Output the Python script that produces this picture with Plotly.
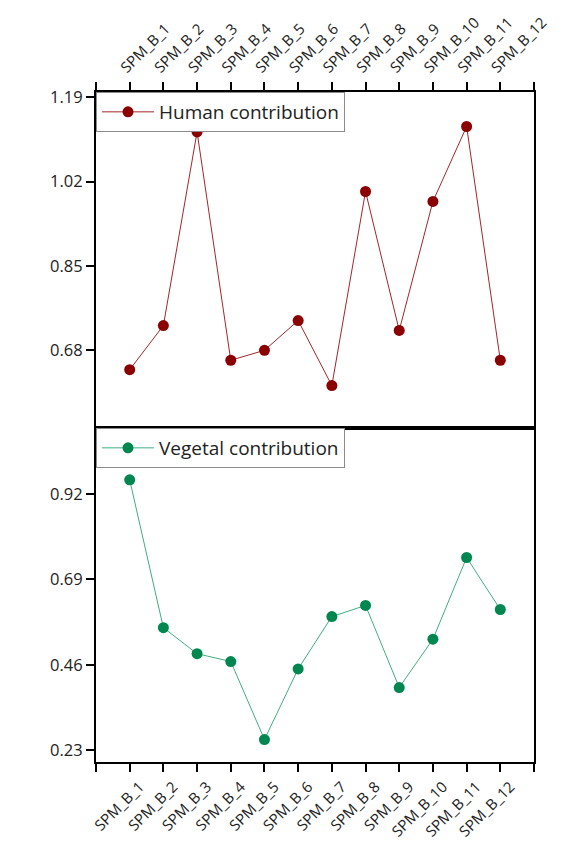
import plotly.graph_objects as go
from plotly.subplots import make_subplots

# Samples and their contributions
samples = [f"SPM_B_{i}" for i in range(1, 13)]
human = [0.641, 0.730, 1.120, 0.660, 0.680, 0.740, 0.609, 1.000, 0.720, 0.980, 1.131, 0.660]
vegetal = [0.958, 0.560, 0.490, 0.469, 0.259, 0.449, 0.590, 0.620, 0.399, 0.529, 0.749, 0.609]

human_ticks = [0.68, 0.85, 1.02, 1.19]
vegetal_ticks = [0.23, 0.46, 0.69, 0.92]

x_pos = list(range(1, len(samples) + 1))
tick_pos = list(range(0, len(samples) + 2))
tick_text = [""] + samples + [""]

FONT = "Open Sans"
TXT = "#222222"

fig = make_subplots(rows=2, cols=1, shared_xaxes=False, vertical_spacing=0.0)

fig.add_trace(go.Scatter(
    x=x_pos, y=human, mode="lines+markers", name="Human contribution",
    line=dict(color="#a3262b", width=1),
    marker=dict(color="#8b0000", size=11),
    legend="legend",
), row=1, col=1)

fig.add_trace(go.Scatter(
    x=x_pos, y=vegetal, mode="lines+markers", name="Vegetal contribution",
    line=dict(color="#3fae80", width=1),
    marker=dict(color="#00874f", size=11),
    legend="legend2",
), row=2, col=1)

axis_common = dict(
    showline=True, linecolor="black", linewidth=2, mirror=True,
    ticks="outside", ticklen=8, tickwidth=1.5, tickcolor="black",
    showgrid=False, zeroline=False, automargin=False,
)

fig.update_xaxes(
    range=[0, 13], tickmode="array", tickvals=tick_pos, ticktext=tick_text,
    tickangle=-45, tickfont=dict(family=FONT, size=15, color=TXT), **axis_common,
)
fig.update_xaxes(side="top", ticklabelshift=-8, row=1, col=1)
fig.update_xaxes(side="bottom", ticklabelshift=10, ticklabelstandoff=0, row=2, col=1)

yfont = dict(family=FONT, size=16.5, color=TXT)
fig.update_yaxes(range=[0.5235, 1.2005], tickmode="array", tickvals=human_ticks,
                 ticktext=[f"{v:.2f}" for v in human_ticks], tickfont=yfont,
                 **axis_common, row=1, col=1)
fig.update_yaxes(range=[0.1985, 1.0976], tickmode="array", tickvals=vegetal_ticks,
                 ticktext=[f"{v:.2f}" for v in vegetal_ticks], tickfont=yfont,
                 **axis_common, row=2, col=1)

fig.update_layout(yaxis=dict(domain=[0.4985, 1.0]), yaxis2=dict(domain=[0.0, 0.4985]))

legend_style = dict(
    xanchor="left", yanchor="top", x=0.0,
    bgcolor="white", bordercolor="#8c8c8c", borderwidth=1,
    font=dict(family=FONT, size=19, color=TXT),
    itemwidth=52, tracegroupgap=0,
)

fig.update_layout(
    width=578, height=844,
    margin=dict(l=96, r=44, t=92, b=82),
    paper_bgcolor="white", plot_bgcolor="white",
    showlegend=True,
    legend=dict(y=1.0, **legend_style),
    legend2=dict(y=0.4985, **legend_style),
)

fig.write_html("out.html")
